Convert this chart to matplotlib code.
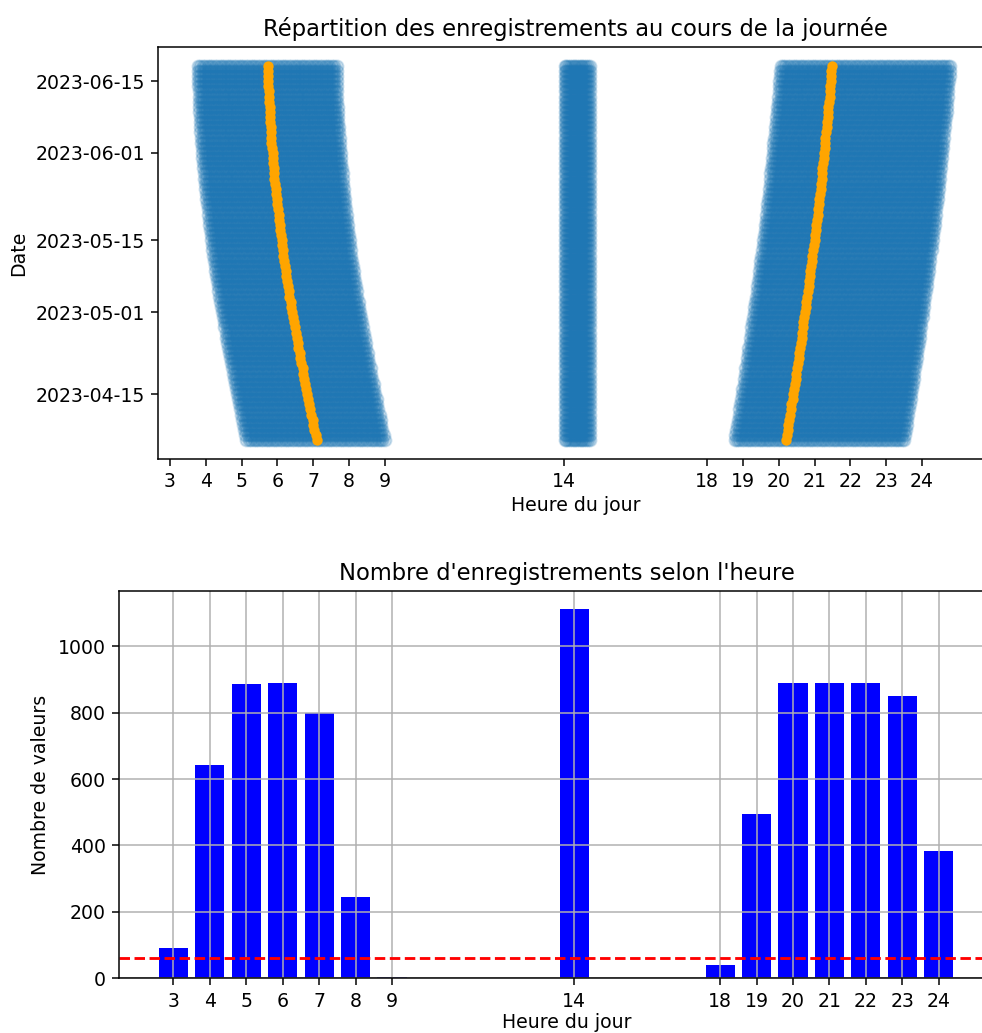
import numpy as np
import pandas as pd
import matplotlib
matplotlib.use("Agg")
import matplotlib.pyplot as plt
import matplotlib.dates as mdates

# ---------------- data ----------------
start_date = "2023-04-06"
end_date = "2023-06-18"

# sunrise time per day (minutes since midnight), 2023-04-06 .. 2023-06-18
sunrise_min = [
    426, 424, 422, 420, 419, 417, 415, 413, 412, 410,
    408, 407, 405, 403, 402, 400, 398, 397, 395, 394,
    392, 391, 389, 388, 386, 385, 383, 382, 380, 379,
    378, 376, 375, 374, 373, 371, 370, 369, 368, 367,
    366, 365, 364, 363, 362, 361, 360, 359, 358, 357,
    356, 355, 355, 354, 353, 352, 352, 351, 350, 350,
    349, 349, 348, 348, 347, 347, 346, 346, 346, 345,
    345, 345, 345, 345,
]
# sunset time per day (minutes since midnight)
sunset_min = [
    1212, 1213, 1215, 1216, 1217, 1219, 1220, 1221, 1223, 1224,
    1225, 1227, 1228, 1229, 1230, 1232, 1233, 1234, 1235, 1237,
    1238, 1239, 1240, 1241, 1243, 1244, 1245, 1246, 1247, 1249,
    1250, 1251, 1252, 1253, 1254, 1255, 1256, 1258, 1259, 1260,
    1261, 1262, 1263, 1264, 1265, 1266, 1267, 1268, 1269, 1270,
    1271, 1272, 1272, 1273, 1274, 1275, 1276, 1277, 1277, 1278,
    1279, 1280, 1281, 1282, 1283, 1283, 1284, 1285, 1286, 1286,
    1287, 1288, 1288, 1289,
]
# recording schedule (minutes relative to sunrise / sunset, and fixed afternoon slot)
dawn_offsets = list(range(-118, 115, 4))
dusk_offsets = list(range(-86, 201, 4))
afternoon_minutes = list(range(14 * 60 + 1, 14 * 60 + 44, 3))

# bar chart: number of recordings per hour
hours = [3, 4, 5, 6, 7, 8, 9, 14, 18, 19, 20, 21, 22, 23, 24]
counts = [92, 643, 885, 888, 798, 246, 4, 1111, 39, 495, 888, 888, 888, 851, 382]
threshold = 62

# ---------------- build scatter points ----------------
dates = pd.date_range(start_date, end_date, freq="D")
xs, ys = [], []
for d, sr, ss in zip(dates, sunrise_min, sunset_min):
    for o in dawn_offsets:
        xs.append((sr + o) / 60.0); ys.append(d)
    for m in afternoon_minutes:
        xs.append(m / 60.0); ys.append(d)
    for o in dusk_offsets:
        xs.append((ss + o) / 60.0); ys.append(d)

DPI = 136
fig = plt.figure(figsize=(982 / DPI, 1033 / DPI), dpi=DPI)

# ---------------- top chart ----------------
ax1 = fig.add_axes([158 / 982, 1 - 459 / 1033, 835 / 982, 412 / 1033])
ax1.scatter(xs, ys, s=40, alpha=0.22, color="#1f77b4")
ax1.scatter(np.array(sunrise_min) / 60.0, dates, s=20, color="orange", zorder=3)
ax1.scatter(np.array(sunset_min) / 60.0, dates, s=20, color="orange", zorder=3)
ax1.set_xticks(hours)
ax1.set_xlim(2.665, 25.98)
ax1.yaxis.set_major_locator(mdates.DayLocator(bymonthday=[1, 15]))
ax1.yaxis.set_major_formatter(mdates.DateFormatter("%Y-%m-%d"))
ax1.set_title("Répartition des enregistrements au cours de la journée")
ax1.set_xlabel("Heure du jour", labelpad=2.5)
ax1.set_ylabel("Date")

# ---------------- bottom chart ----------------
ax2 = fig.add_axes([119 / 982, 1 - 978.3 / 1033, 896 / 982, 387.3 / 1033])
ax2.bar(hours, counts, color="blue", width=0.8)
ax2.axhline(threshold, color="red", linestyle="--")
ax2.set_xticks(hours)
ax2.set_xlim(1.51, 26.09)
ax2.grid(True)
ax2.set_title("Nombre d'enregistrements selon l'heure")
ax2.set_xlabel("Heure du jour", labelpad=1.2)
ax2.set_ylabel("Nombre de valeurs")

fig.savefig("out.png", dpi=DPI)
